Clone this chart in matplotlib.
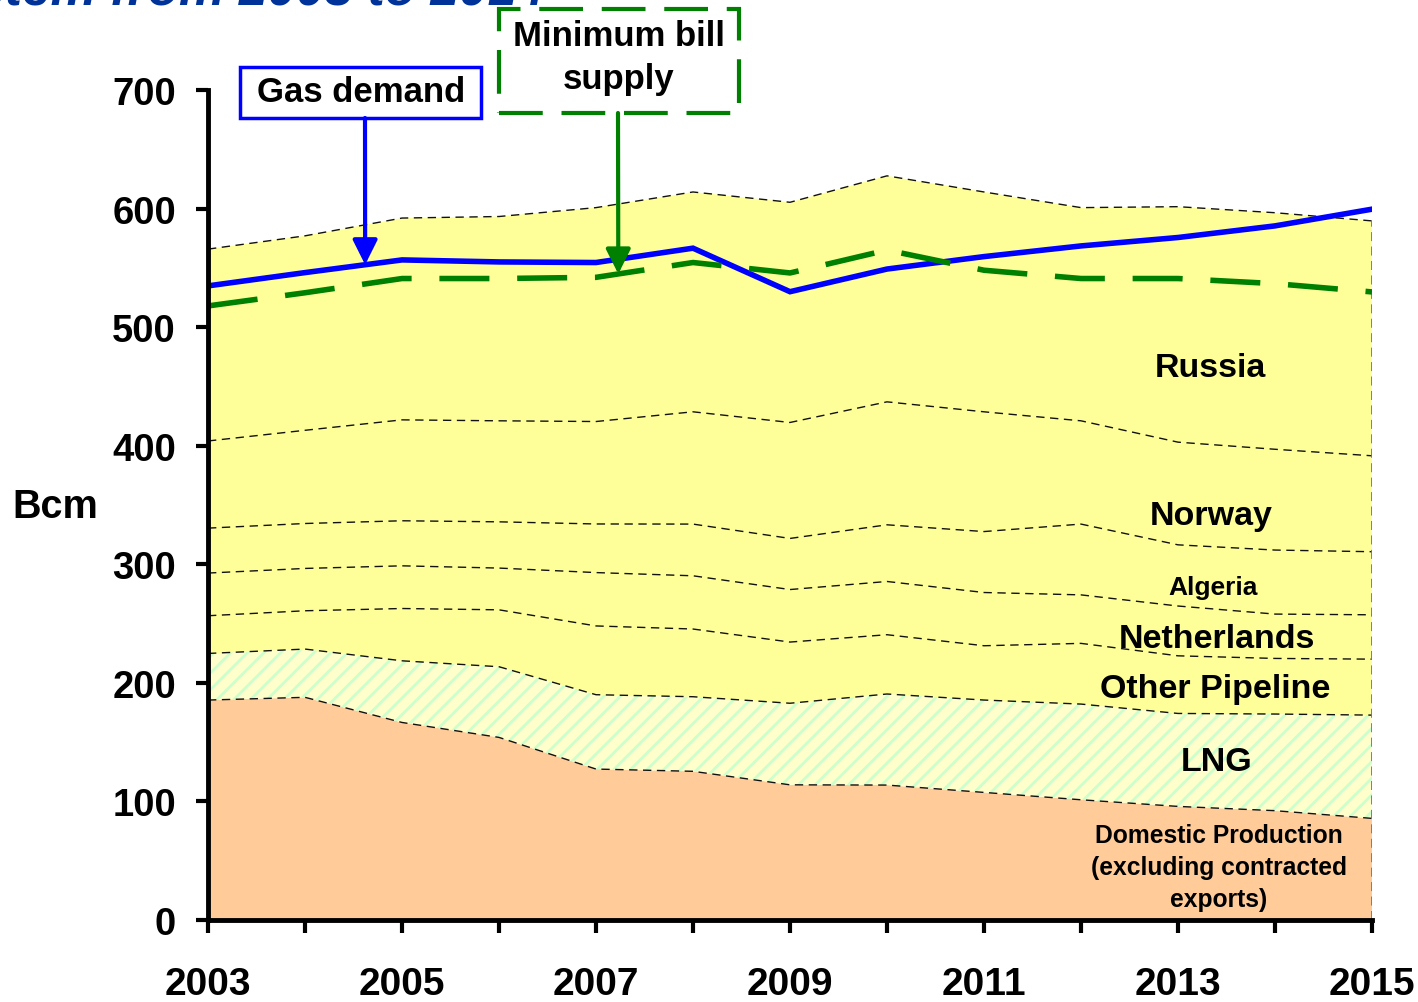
import matplotlib
matplotlib.use("Agg")
import matplotlib.pyplot as plt
import numpy as np
from matplotlib.patches import Rectangle

# ---------------- data (Bcm) ----------------
years = [2003, 2004, 2005, 2006, 2007, 2008, 2009, 2010, 2011, 2012, 2013, 2014, 2015]
x_tick_labels = ["2003", "", "2005", "", "2007", "", "2009", "", "2011", "", "2013", "", "2015"]
y_ticks = [0, 100, 200, 300, 400, 500, 600, 700]

domestic = [185.5, 187.8, 166.6, 154.0, 127.3, 125.4, 114.0, 113.8, 107.6, 101.4, 95.8, 92.2, 85.7]
lng = [39.3, 40.7, 52.0, 59.6, 62.7, 62.9, 68.8, 76.8, 77.9, 80.7, 78.4, 81.5, 87.1]
other_pipeline = [31.8, 32.3, 44.1, 48.0, 58.0, 57.1, 51.6, 50.0, 45.8, 51.2, 48.6, 46.9, 47.2]
netherlands = [36.0, 35.7, 36.0, 35.2, 45.0, 44.9, 44.3, 44.9, 44.9, 40.9, 42.0, 37.4, 37.4]
algeria = [37.9, 37.9, 38.0, 39.0, 41.0, 43.6, 43.1, 47.8, 51.4, 59.7, 51.6, 54.0, 53.2]
norway = [73.5, 78.6, 85.1, 85.2, 86.4, 94.7, 97.8, 103.7, 101.0, 87.1, 86.6, 85.0, 80.9]
russia = [161.8, 164.0, 170.2, 172.3, 180.4, 185.4, 185.7, 190.6, 185.4, 179.8, 198.6, 199.5, 198.1]

gas_demand = [534.8, 546.0, 556.7, 555.0, 554.5, 566.6, 529.9, 549.0, 559.5, 568.5, 575.6, 585.4, 599.5]
min_bill_supply = [517.9, 529.0, 541.0, 541.0, 542.0, 554.5, 545.7, 565.0, 548.0, 541.0, 541.0, 536.7, 529.7]

# ---------------- style ----------------
plt.rcParams["font.family"] = ["Liberation Sans", "DejaVu Sans"]
plt.rcParams["font.weight"] = "bold"
plt.rcParams["hatch.linewidth"] = 2.0

W, H = 1418, 1003
fig = plt.figure(figsize=(W / 100, H / 100), dpi=100)
ax = fig.add_axes([208 / W, 1 - 921 / H, (1372 - 208) / W, (921 - 91) / H])

x = np.array(years, dtype=float)
stack = np.array([domestic, lng, other_pipeline, netherlands, algeria, norway, russia])
cum = np.cumsum(stack, axis=0)

# fills
ax.fill_between(x, 0, cum[0], facecolor="#FFCC99", linewidth=0, zorder=1)
ax.fill_between(x, cum[0], cum[1], facecolor="#FFFFCC", edgecolor="#CCFFCC",
                hatch="//", linewidth=0, zorder=1)
ax.fill_between(x, cum[1], cum[-1], facecolor="#FFFF99", linewidth=0, zorder=1)

# boundaries
for level in cum:
    ax.plot(x, level, color="#111111", lw=1.0, ls=(0, (6, 4)), zorder=2)
ax.plot([x[-1], x[-1]], [0, cum[-1][-1]], color="#777777", lw=1.3, ls=(0, (5, 3)), zorder=2)

# lines
ax.plot(x, gas_demand, color="#0000FF", lw=4, zorder=4, solid_joinstyle="miter")
ax.plot(x, min_bill_supply, color="#008000", lw=4, ls=(0, (9, 5)), zorder=5)

# axes styling
ax.set_xlim(2003, 2015)
ax.set_ylim(0, 700)
ax.set_xticks(years)
ax.set_xticklabels(x_tick_labels)
ax.set_yticks(y_ticks)
for s in ["top", "right"]:
    ax.spines[s].set_visible(False)
for s in ["left", "bottom"]:
    ax.spines[s].set_linewidth(3.5)
    ax.spines[s].set_zorder(6)
ax.tick_params(axis="both", direction="out", length=9, width=3, labelsize=27.5)
ax.tick_params(axis="y", pad=14)
ax.tick_params(axis="x", pad=24, labelsize=28)
for lab in ax.get_xticklabels() + ax.get_yticklabels():
    lab.set_fontweight("bold")

fig.text(55 / W, 1 - 507 / H, "Bcm", ha="center", va="center", fontsize=28.5, fontweight="bold")

# title (cut off at the top, as in the source)
fig.text(545 / W, 1 - 5 / H, "system from 2003 to 2014", ha="right", va="baseline",
         fontsize=37, fontweight="bold", style="italic", color="#003399")

# band labels
lab_kw = dict(ha="center", va="center", fontweight="bold", color="black", zorder=7)
ax.text(2013.33, 466, "Russia", fontsize=24.5, **lab_kw)
ax.text(2013.34, 341.5, "Norway", fontsize=24.5, **lab_kw)
ax.text(2013.36, 281, "Algeria", fontsize=19,
        bbox=dict(facecolor="#FFFF99", edgecolor="none", pad=1), **lab_kw)
ax.text(2013.40, 237.8, "Netherlands", fontsize=24.5, **lab_kw)
ax.text(2013.38, 195.6, "Other Pipeline", fontsize=24.5, **lab_kw)
ax.text(2013.40, 134, "LNG", fontsize=24.5, **lab_kw)
ax.text(2013.42, 44.7, "Domestic Production\n(excluding contracted\nexports)", fontsize=17.7,
        linespacing=1.42, **lab_kw)

# annotation boxes
fig.add_artist(Rectangle((240 / W, 1 - 119 / H), (481 - 240) / W, (119 - 68) / H,
                         transform=fig.transFigure, fill=False, edgecolor="#0000FF", lw=2.5))
fig.text(361 / W, 1 - 93 / H, "Gas demand", ha="center", va="center", fontsize=25, fontweight="bold")

fig.add_artist(Rectangle((499 / W, 1 - 114 / H), (739 - 499) / W, (114 - 10) / H,
                         transform=fig.transFigure, fill=False, edgecolor="#008000", lw=3,
                         ls=(0, (10.5, 4.5))))
fig.text(619 / W, 1 - 36 / H, "Minimum bill", ha="center", va="center", fontsize=25, fontweight="bold")
fig.text(619 / W, 1 - 80 / H, "supply", ha="center", va="center", fontsize=25, fontweight="bold")

xa = 2004.62
ax.annotate("", xy=(xa, np.interp(xa, x, gas_demand)), xycoords="data",
            xytext=(365 / W, 1 - 119 / H), textcoords="figure fraction",
            arrowprops=dict(arrowstyle="-|>,head_width=0.3,head_length=0.6", color="#0000FF",
                            lw=3, mutation_scale=25, shrinkA=0, shrinkB=0), zorder=8)
xb = 2007.23
ax.annotate("", xy=(xb, np.interp(xb, x, min_bill_supply)), xycoords="data",
            xytext=(618 / W, 1 - 114 / H), textcoords="figure fraction",
            arrowprops=dict(arrowstyle="-|>,head_width=0.3,head_length=0.6", color="#008000",
                            lw=3, mutation_scale=25, shrinkA=0, shrinkB=0), zorder=8)

fig.savefig("out.png", dpi=100)
